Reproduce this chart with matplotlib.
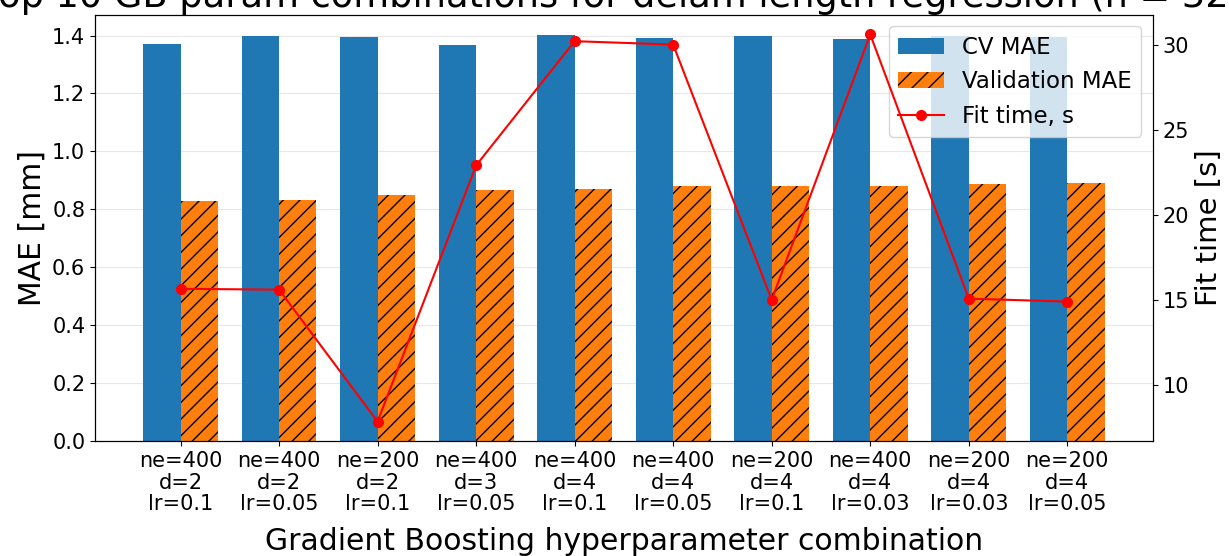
import matplotlib
matplotlib.use("Agg")
import matplotlib.pyplot as plt
import numpy as np

# data
combos = ["ne=400\nd=2\nlr=0.1", "ne=400\nd=2\nlr=0.05", "ne=200\nd=2\nlr=0.1",
          "ne=400\nd=3\nlr=0.05", "ne=400\nd=4\nlr=0.1", "ne=400\nd=4\nlr=0.05",
          "ne=200\nd=4\nlr=0.1", "ne=400\nd=4\nlr=0.03", "ne=200\nd=4\nlr=0.03",
          "ne=200\nd=4\nlr=0.05"]
cv_mae = [1.372, 1.400, 1.395, 1.369, 1.401, 1.390, 1.400, 1.388, 1.400, 1.395]
val_mae = [0.829, 0.833, 0.851, 0.867, 0.870, 0.879, 0.879, 0.879, 0.888, 0.890]
fit_time = [15.65, 15.6, 7.85, 22.9, 30.2, 30.0, 15.0, 30.6, 15.07, 14.9]

barsWidth = 0.38
x = np.arange(len(combos))

fig, ax = plt.subplots(figsize=(12.29, 5.56), dpi=100)
fig.subplots_adjust(left=0.0773, right=0.938, bottom=0.207, top=0.973)

b1 = ax.bar(x - barsWidth / 2, cv_mae, barsWidth, color="#1f77b4", label="CV MAE")
b2 = ax.bar(x + barsWidth / 2, val_mae, barsWidth, color="#ff7f0e", hatch="//",
            label="Validation MAE")
ax.set_xticks(x)
ax.set_xticklabels(combos, fontsize=15, linespacing=1.12)
ax.tick_params(axis="y", labelsize=15)
ax.set_ylabel("MAE [mm]", fontsize=21.5)
ax.set_xlabel("Gradient Boosting hyperparameter combination", fontsize=21.5,
              labelpad=9)
ax.grid(axis="y", alpha=0.3)
ax.set_axisbelow(True)
ax.set_title("Top 10 GB param combinations for delam length regression (n = 320)",
             fontsize=26.5)

ax2 = ax.twinx()
l1, = ax2.plot(x, fit_time, color="red", marker="o", markersize=7, label="Fit time, s")
ax2.set_ylabel("Fit time [s]", fontsize=21)
ax2.tick_params(axis="y", labelsize=15)

# legend on the bar axes so the red line is drawn over it
ax.legend([b1, b2, l1], ["CV MAE", "Validation MAE", "Fit time, s"],
          loc="upper right", fontsize=16.5)

fig.savefig("out.png", dpi=100)
